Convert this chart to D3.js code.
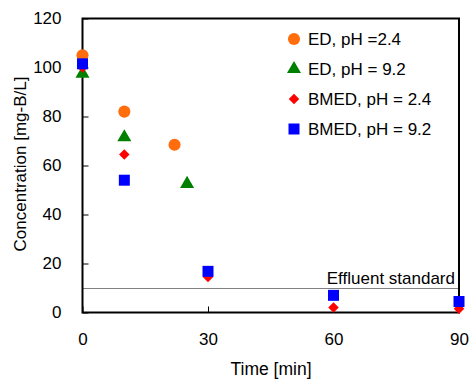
<!DOCTYPE html>
<html>
<head>
<meta charset="utf-8">
<script src="https://cdn.jsdelivr.net/npm/d3@7"></script>
<style>
  body { margin: 0; background: #fff; }
  text { font-family: "Liberation Sans", Arial, sans-serif; fill: #000; }
</style>
</head>
<body>
<svg id="chart" width="470" height="379"></svg>
<script>
// data
var edAcidTime = [0, 10, 22];
var edAcidConc = [105, 82, 68.5];
var edBaseTime = [0, 10, 25];
var edBaseConc = [97.5, 71.5, 52.5];
var bmedAcidTime = [0, 10, 30, 60, 90];
var bmedAcidConc = [100, 64.5, 14.5, 2, 1.5];
var bmedBaseTime = [0, 10, 30, 60, 90];
var bmedBaseConc = [101.5, 54, 16.8, 7, 4.5];
var effluentStandard = 10;
var xTicks = [0, 30, 60, 90];
var yTicks = [0, 20, 40, 60, 80, 100, 120];

var series = [
  { name: "ED, pH =2.4", t: edAcidTime, c: edAcidConc, color: "#ff6d0d", shape: d3.symbolCircle, size: 115, rot: 0 },
  { name: "ED, pH = 9.2", t: edBaseTime, c: edBaseConc, color: "#008000", shape: d3.symbolTriangle, size: 85, rot: 0 },
  { name: "BMED, pH = 2.4", t: bmedAcidTime, c: bmedAcidConc, color: "#ff0000", shape: d3.symbolSquare, size: 55, rot: 45 },
  { name: "BMED, pH = 9.2", t: bmedBaseTime, c: bmedBaseConc, color: "#0000ff", shape: d3.symbolSquare, size: 121, rot: 0 }
];

var svg = d3.select("#chart");
var pLeft = 82.5, pRight = 459, pTop = 18.5, pBottom = 312.5;
var fs = 17;

var x = d3.scaleLinear().domain([0, 90]).range([pLeft, pRight]);
var y = d3.scaleLinear().domain([0, 120]).range([pBottom, pTop]);

// effluent standard line
var ly10 = Math.round(y(effluentStandard)) + 0.5;
svg.append("line")
  .attr("x1", pLeft).attr("x2", pRight)
  .attr("y1", ly10).attr("y2", ly10)
  .attr("stroke", "#808080").attr("stroke-width", 1);
svg.append("text")
  .attr("x", 455).attr("y", ly10 - 5)
  .attr("text-anchor", "end")
  .attr("font-size", fs)
  .text("Effluent standard");

// axes, ticks pointing inward
var xAxis = d3.axisBottom(x).tickValues(xTicks).tickSizeInner(-6).tickSizeOuter(0).tickPadding(20);
var yAxis = d3.axisLeft(y).tickValues(yTicks).tickSizeInner(-6).tickSizeOuter(0).tickPadding(21);

var gx = svg.append("g").attr("transform", "translate(0," + pBottom + ")").call(xAxis);
var gy = svg.append("g").attr("transform", "translate(" + pLeft + ",0)").call(yAxis);
[gx, gy].forEach(function(g) {
  g.select(".domain").remove();
  g.selectAll(".tick line").attr("stroke", "#000").attr("stroke-width", 1);
  g.selectAll(".tick text").attr("font-size", fs).attr("font-family", "Liberation Sans, Arial, sans-serif").attr("fill", "#000");
});

// frame
svg.append("rect")
  .attr("x", pLeft).attr("y", pTop)
  .attr("width", pRight - pLeft).attr("height", pBottom - pTop)
  .attr("fill", "none").attr("stroke", "#000").attr("stroke-width", 2);

// points
series.forEach(function(s) {
  svg.append("g").selectAll("path")
    .data(s.t.map(function(t, i) { return [t, s.c[i]]; }))
    .enter().append("path")
    .attr("d", d3.symbol().type(s.shape).size(s.size))
    .attr("transform", function(d) { return "translate(" + x(d[0]) + "," + y(d[1]) + ") rotate(" + s.rot + ")"; })
    .attr("fill", s.color);
});

// legend
var legend = svg.append("g");
series.forEach(function(s, i) {
  var ly = 39 + i * 30;
  legend.append("path")
    .attr("d", d3.symbol().type(s.shape).size(s.size))
    .attr("transform", "translate(294," + ly + ") rotate(" + s.rot + ")")
    .attr("fill", s.color);
  legend.append("text")
    .attr("x", 308).attr("y", ly + 6)
    .attr("font-size", fs)
    .text(s.name);
});

// axis titles
svg.append("text")
  .attr("x", 271).attr("y", 375)
  .attr("text-anchor", "middle").attr("font-size", 17.5)
  .text("Time [min]");
svg.append("text")
  .attr("transform", "translate(26,164) rotate(-90)")
  .attr("text-anchor", "middle").attr("font-size", fs)
  .text("Concentration [mg-B/L]");
</script>
</body>
</html>
